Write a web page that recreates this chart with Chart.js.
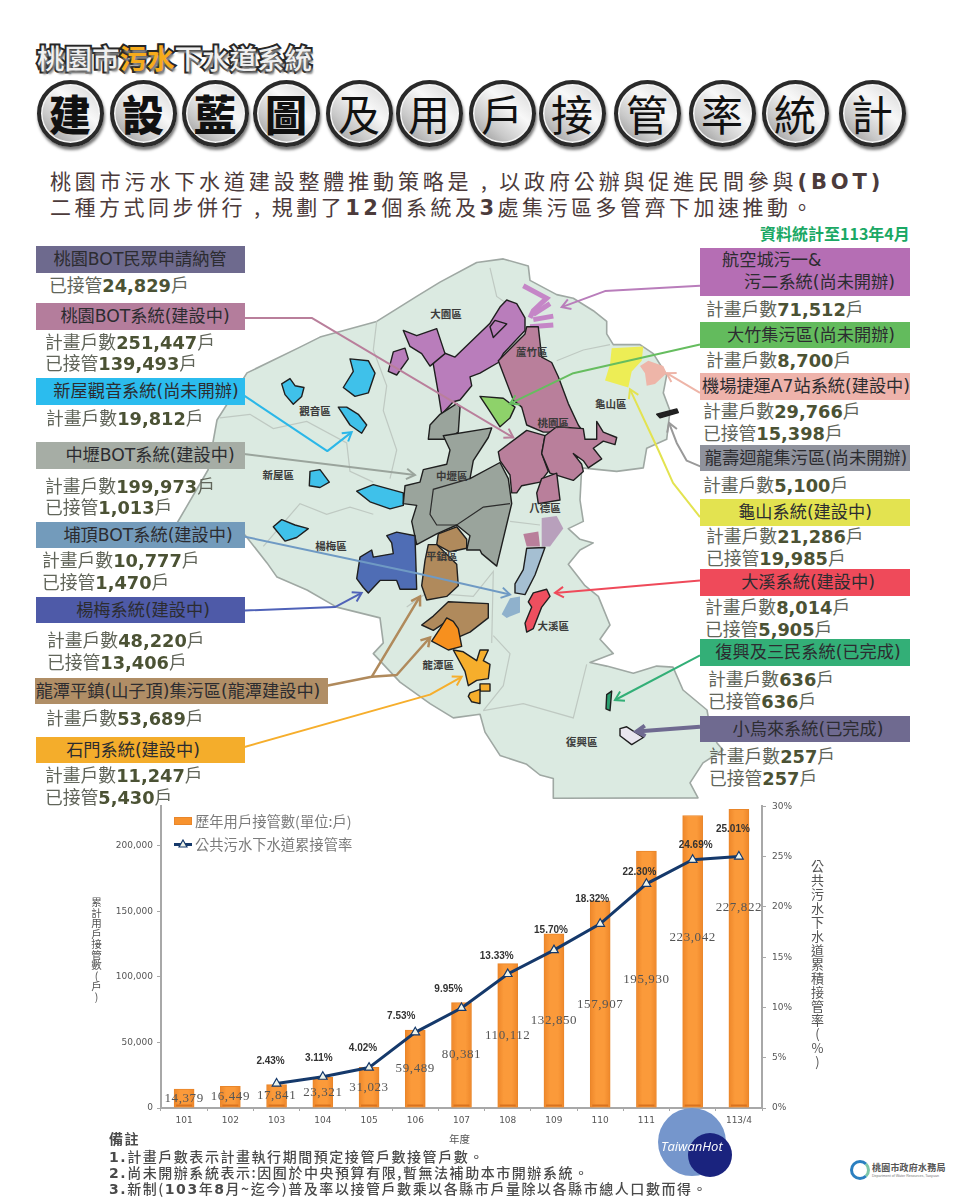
<!DOCTYPE html>
<html lang="zh-Hant">
<head>
<meta charset="utf-8">
<title>桃園市污水下水道系統</title>
<script src="https://cdn.jsdelivr.net/npm/chart.js@4"></script>
<style>
html, body { margin: 0; padding: 0; background: #fff; }
#page { position: relative; width: 960px; height: 1200px; overflow: hidden; font-family: "DejaVu Sans", "Noto Sans CJK TC", sans-serif; }
#page > * { position: absolute; }
#map { left: 0; top: 0; width: 960px; height: 1200px; }
.title { left: 37px; top: 38px; font: 500 27.5px/38px "Noto Sans CJK TC"; color: #f0f0f0; white-space: nowrap; -webkit-text-stroke: 4px #262626; paint-order: stroke fill; text-shadow: 2px 3px 2px #8a8a8a; }
.title b { color: #f6ab1c; font-weight: 700; }
.ball { width: 59px; height: 59px; top: 80px; border: 4px solid #2a2a2a; border-radius: 50%; background: linear-gradient(40deg, #8c8c8c 0, #c9c9c9 30%, #f8f8f8 62%, #e4e4e4 82%, #b5b5b5 100%); box-shadow: inset 0 0 0 1.5px #f4f4f4, 1px 3px 3px #777; color: #111; text-align: center; font: 400 42px/57px "Noto Sans CJK TC"; }
.ball.heavy { font-weight: 900; }
.intro { left: 50px; white-space: nowrap; color: #4c3b3b; font: 400 21px/28px "Noto Sans CJK TC"; letter-spacing: 3.85px; }
.intro b { font-family: "DejaVu Sans"; font-weight: 700; }
.stamp { left: 760px; top: 223px; color: #1aa864; font: 700 16px/20px "Noto Sans CJK TC"; white-space: nowrap; }
.box { height: 26px; line-height: 26px; font-size: 17.2px; color: #2c2c30; white-space: nowrap; }
.box span { position: absolute; top: 0; transform: translateX(-50%); }
.stat { white-space: nowrap; font-size: 17.8px; line-height: 22px; color: #61655a; }
.stat b { color: #4b5234; }
.dist { transform: translate(-50%, -50%); font: 700 10.5px/12px "Noto Sans CJK TC"; color: #3a3a3a; white-space: nowrap; }
#chartBox { left: 100px; top: 795px; width: 710px; height: 345px; }
.legend { left: 195px; font: 400 14.3px/20px "Noto Sans CJK TC"; color: #7b7b7b; white-space: nowrap; }
.swatch { left: 174px; top: 817px; width: 18px; height: 8px; background: #f7922e; border: 1px solid #e9862a; box-sizing: border-box; }
.swatchLine { left: 174px; top: 843px; width: 18px; height: 3px; background: #15396b; }
.swatchTri { left: 178px; top: 839px; width: 10px; height: 9px; }
.axisTitle { writing-mode: vertical-rl; text-orientation: upright; font: 400 10.5px/12px "Noto Sans CJK TC"; color: #555; white-space: nowrap; }
.note { left: 109px; white-space: nowrap; color: #4a4a4a; font: 500 14px/17px "Noto Sans CJK TC"; letter-spacing: 1.55px; }
.note b { font-family: "DejaVu Sans"; font-weight: 700; }
.hotA, .hotB { border-radius: 50%; }
.hotA { left: 658px; top: 1108px; width: 68px; height: 68px; background: #7596cc; }
.hotB { left: 688px; top: 1133px; width: 44px; height: 44px; background: #1a237e; }
.hotText { left: 661px; top: 1136px; color: #fff; font: italic 400 13px/20px "Open Sans"; white-space: nowrap; }
.logo { left: 850px; top: 1160px; width: 20px; height: 20px; border-radius: 50%; border: 3px solid #2a7fc0; border-right-color: #7cc6a8; box-sizing: border-box; }
.logoText { left: 872px; top: 1162px; font: 700 9px/11px "Noto Sans CJK TC"; color: #555; white-space: nowrap; letter-spacing: .2px; }
.logoSub { left: 872px; top: 1174px; font: 400 3.6px/5px "Liberation Sans"; color: #777; white-space: nowrap; }
</style>
</head>
<body>
<div id="page">
  <svg id="map" viewBox="0 0 960 1200" xmlns="http://www.w3.org/2000/svg"></svg>

  <div class="title">桃園市<b>污水</b>下水道系統</div>

  <div class="intro" style="top:166px">桃園市污水下水道建設整體推動策略是 , 以政府公辦與促進民間參與<b>(BOT)</b></div>
  <div class="intro" style="top:192px;letter-spacing:3.5px">二種方式同步併行 , 規劃了<b>12</b>個系統及<b>3</b>處集污區多管齊下加速推動。</div>
  <div class="stamp">資料統計至113年4月</div>

  <div id="chartBox"><canvas id="comboChart"></canvas></div>

  <div class="swatch"></div>
  <div class="legend" style="top:811px">歷年用戶接管數(單位:戶)</div>
  <div class="swatchLine"></div>
  <svg class="swatchTri" viewBox="0 0 10 9"><polygon points="5,1 9,8 1,8" fill="#eef3ea" stroke="#15396b" stroke-width="1.2"/></svg>
  <div class="legend" style="top:834px">公共污水下水道累接管率</div>
  <div class="axisTitle" style="left:90px;top:897px">累計用戶接管數(戶)</div>
  <div class="axisTitle" style="left:810px;top:860px;font-size:13px;line-height:14px;letter-spacing:1px">公共污水下水道累積接管率(%)</div>
  <div class="axisTitle" style="left:449px;top:1133px;writing-mode:horizontal-tb">年度</div>

  <div class="note" style="top:1130px;font-weight:700">備註</div>
  <div class="note" style="top:1148px"><b>1.</b>計畫戶數表示計畫執行期間預定接管戶數接管戶數。</div>
  <div class="note" style="top:1164px"><b>2.</b>尚未開辦系統表示:因囿於中央預算有限,暫無法補助本市開辦系統。</div>
  <div class="note" style="top:1180px"><b>3.</b>新制(<b>103</b>年<b>8</b>月~迄今)普及率以接管戶數乘以各縣市戶量除以各縣市總人口數而得。</div>

  <div class="hotA"></div>
  <div class="hotB"></div>
  <div class="hotText">TaiwanHot</div>
  <div class="logo"></div>
  <div class="logoText">桃園市政府水務局</div>
  <div class="logoSub">Department of Water Resources, Taoyuan</div>
</div>

<script>
// Chart data
const years = ['101', '102', '103', '104', '105', '106', '107', '108', '109', '110', '111', '112', '113/4'];
const households = [14379, 16449, 17841, 23321, 31023, 59489, 80381, 110112, 132850, 157907, 195930, 223042, 227822];
const connectRates = [null, null, 2.43, 3.11, 4.02, 7.53, 9.95, 13.33, 15.70, 18.32, 22.30, 24.69, 25.01];
const householdTicks = [0, 50000, 100000, 150000, 200000];
const rateTicks = [0, 5, 10, 15, 20, 25, 30];

// Header balls (centre x)
const ballChars = ['建', '設', '藍', '圖', '及', '用', '戶', '接', '管', '率', '統', '計'];
const ballCentres = [70, 143, 215, 286, 359, 429, 502, 572, 647, 722, 795, 872];

// Label boxes: text, left, top, width, height, colour, text centre
const labelBoxes = [
    ['桃園BOT民眾申請納管', 36, 246, 209, 27, '#6e6a8e', 140],
    ['桃園BOT系統(建設中)', 36, 303, 209, 27, '#b47d9c', 145],
    ['新屋觀音系統(尚未開辦)', 36, 378, 209, 27, '#2bbcee', 146],
    ['中壢BOT系統(建設中)', 36, 442, 209, 27, '#a6ada5', 150],
    ['埔頂BOT系統(建設中)', 36, 522, 209, 26, '#739bbb', 148],
    ['楊梅系統(建設中)', 36, 597, 209, 26, '#4e5aa8', 143],
    ['龍潭平鎮(山子頂)集污區(龍潭建設中)', 35, 678, 293, 26, '#b08e66', 178],
    ['石門系統(建設中)', 36, 737, 209, 26, '#f4ad2b', 133],
    ['大竹集污區(尚未開辦)', 700, 322, 210, 26, '#63bb5d', 811],
    ['機場捷運A7站系統(建設中)', 700, 373, 210, 27, '#eeb3ab', 806],
    ['龍壽迴龍集污區(尚未開辦)', 700, 445, 210, 26, '#8f929c', 806],
    ['龜山系統(建設中)', 700, 499, 210, 27, '#e3e350', 805],
    ['大溪系統(建設中)', 700, 569, 210, 27, '#ef4a5a', 808],
    ['復興及三民系統(已完成)', 700, 639, 210, 27, '#33af77', 808],
    ['小烏來系統(已完成)', 700, 716, 210, 26, '#6f6a90', 808]
];

// Stat lines: prefix, number, left, centre y
const statLines = [
    ['已接管', '24,829', 49, 286],
    ['計畫戶數', '251,447', 45, 343],
    ['已接管', '139,493', 45, 364],
    ['計畫戶數', '19,812', 46, 419],
    ['計畫戶數', '199,973', 45, 487],
    ['已接管', '1,013', 45, 508],
    ['計畫戶數', '10,777', 42, 561],
    ['已接管', '1,470', 42, 583],
    ['計畫戶數', '48,220', 47, 641],
    ['已接管', '13,406', 47, 663],
    ['計畫戶數', '53,689', 46, 719],
    ['計畫戶數', '11,247', 45, 776],
    ['已接管', '5,430', 45, 798],
    ['計畫戶數', '71,512', 706, 310],
    ['計畫戶數', '8,700', 706, 361],
    ['計畫戶數', '29,766', 703, 412],
    ['已接管', '15,398', 703, 434],
    ['計畫戶數', '5,100', 703, 486],
    ['計畫戶數', '21,286', 706, 537],
    ['已接管', '19,985', 706, 559],
    ['計畫戶數', '8,014', 705, 608],
    ['已接管', '5,905', 705, 630],
    ['計畫戶數', '636', 708, 680],
    ['已接管', '636', 708, 702],
    ['計畫戶數', '257', 709, 757],
    ['已接管', '257', 709, 779]
];

// Map shapes (map units: x*3, y*2.8 from 240,250)
const mapOutline = [[240,244],[410,200],[530,130],[600,90],[710,35],[790,25],[865,45],[870,85],[950,125],[1000,135],[1060,170],[1100,200],[1100,235],[1120,265],[1200,265],[1240,290],[1280,350],[1270,400],[1290,450],[1280,530],[1220,555],[1210,610],[1130,620],[1025,610],[1020,700],[1030,760],[985,780],[1020,810],[1060,820],[1020,840],[985,880],[1010,910],[1035,940],[1075,970],[1110,1050],[1080,1090],[1120,1130],[1050,1155],[1100,1165],[1180,1185],[1250,1165],[1299,1168],[1329,1232],[1401,1288],[1410,1336],[1431,1380],[1449,1400],[1389,1436],[1350,1492],[1374,1534],[940,1535],[940,1480],[900,1470],[860,1440],[780,1415],[735,1350],[720,1300],[640,1310],[570,1270],[480,1210],[400,1130],[430,1100],[420,1030],[290,1000],[201,952],[111,916],[81,876],[15,798],[-201,784],[-96,616],[-69,476],[21,344],[180,272]];
const districtLines = [
    [[410,200],[400,280],[440,380],[430,450],[470,560],[450,640]],
    [[-60,470],[30,460],[100,500],[200,480],[320,540],[330,620],[400,650]],
    [[70,830],[180,710],[260,740],[330,720],[400,740]],
    [[750,50],[770,130],[800,150]],
    [[950,310],[1030,280],[1110,265]],
    [[500,1000],[560,960],[700,970],[760,900],[755,1100]],
    [[730,1290],[850,1270],[1000,1310],[1040,1160]],
    [[760,1080],[810,1130],[790,1220],[730,1290]],
    [[810,760],[900,770]]
];
const mapRegions = [
    ['#3fc1ea', [[125,375],[150,360],[165,380],[192,385],[185,410],[160,432],[135,405]]],
    ['#3fc1ea', [[330,305],[385,310],[405,345],[385,400],[345,410],[310,385],[340,340]]],
    ['#3fc1ea', [[295,440],[320,440],[355,460],[380,490],[365,513],[330,490]]],
    ['#3fc1ea', [[210,620],[240,615],[268,650],[240,665],[208,660]]],
    ['#3fc1ea', [[350,675],[400,657],[490,680],[490,715],[450,725],[390,705]]],
    ['#3fc1ea', [[100,775],[125,755],[165,770],[205,780],[170,805],[135,815]]],
    ['#b97dbb', [[780,160],[800,140],[830,150],[855,190],[855,225],[790,290],[775,315],[720,345],[690,355],[695,380],[660,420],[640,425],[605,460],[595,400],[580,320],[590,280],[645,300],[750,205]]],
    ['#b97dbb', [[490,225],[530,240],[590,220],[615,290],[570,325],[545,290],[510,270]]],
    ['#b97dbb', [[460,285],[495,275],[505,305],[470,350],[445,340]]],
    ['#b97dbb', [[750,215],[765,197],[800,207],[760,245]]],
    ['#b97f9b', [[860,215],[895,215],[905,300],[935,315],[955,355],[985,430],[1015,490],[1030,510],[910,510],[860,490],[845,440],[820,420],[775,310],[855,235]]],
    ['#b97f9b', [[775,565],[860,505],[915,520],[905,570],[925,620],[900,650],[845,660],[830,680],[815,680],[810,630],[780,590]]],
    ['#b97f9b', [[915,520],[950,495],[1030,500],[1035,530],[1070,530],[1070,480],[1090,510],[1130,525],[1125,545],[1090,535],[1060,555],[1085,585],[1045,610],[1030,590],[1000,570],[1025,600],[1030,620],[1000,645],[930,625],[905,570]]],
    ['#b97f9b', [[905,640],[950,625],[960,700],[895,710],[890,680]]],
    ['#9aa49c', [[570,490],[600,460],[650,430],[660,440],[655,510],[620,530],[565,530]]],
    ['#9aa49c', [[610,520],[755,498],[745,525],[700,590],[690,640],[780,595],[805,640],[815,710],[770,885],[725,850],[720,840],[680,840],[690,800],[650,770],[590,795],[530,825],[515,760],[530,715],[490,710],[495,660],[540,650],[550,615],[620,600],[630,560]]],
    ['#4f6db5', [[440,800],[470,790],[525,800],[530,950],[480,950],[470,925],[420,925],[385,960],[370,945],[350,920],[360,860],[395,840],[400,860],[460,850],[455,820]]],
    ['#b08a5c', [[595,795],[650,775],[680,810],[680,835],[630,845],[590,825]]],
    ['#b08a5c', [[565,825],[590,825],[650,880],[655,940],[620,970],[560,980],[545,940],[555,870]]],
    ['#b08a5c', [[625,985],[745,990],[745,1030],[690,1070],[640,1090],[620,1040],[580,1065],[545,1050],[580,1025]]],
    ['#f7901e', [[620,1030],[640,1040],[655,1060],[665,1110],[625,1120],[575,1095],[600,1060]]],
    ['#f6ae2c', [[640,1120],[670,1125],[710,1150],[720,1120],[745,1120],[730,1150],[750,1160],[745,1200],[710,1205],[685,1220],[675,1180]]],
    ['#f6ae2c', [[720,1215],[750,1215],[750,1235],[720,1235]]],
    ['#f6ae2c', [[690,1240],[720,1230],[720,1270],[695,1265],[685,1250]]],
    ['#a5bfd2', [[860,835],[915,833],[885,910],[855,965],[825,960],[825,935],[850,895]]],
    ['#ee4f5f', [[880,960],[920,950],[930,970],[905,1000],[880,1060],[860,1070],[855,1045],[875,1000],[865,985]]],
    ['#8ed26a', [[720,410],[790,415],[825,440],[810,470],[780,495],[745,445]]],
    ['#2aa070', [[1100,1245],[1115,1235],[1110,1290],[1098,1285]]],
    ['#e9e6ee', [[1140,1340],[1160,1335],[1210,1365],[1175,1385],[1140,1360]]],
    ['#222222', [[1250,460],[1310,445],[1315,455],[1260,470]]]
];
// Regions drawn without a dark edge
const softRegions = [
    ['#b8a0bc', [[905,750],[950,745],[970,780],[930,830],[905,830]]],
    ['#b97f9b', [[850,795],[895,788],[900,830],[860,830]]],
    ['#8fb1cc', [[810,975],[840,970],[840,1015],[800,1030],[785,1020]]],
    ['#eded55', [[1115,275],[1210,270],[1205,310],[1175,340],[1165,385],[1130,375],[1095,365],[1110,320]]],
    ['#eeb5a8', [[1200,325],[1225,310],[1270,325],[1280,345],[1245,375],[1220,380],[1215,345]]]
];
const paleStrokes = [
    [[850,100],[920,135],[880,170],[870,190]],
    [[930,150],[880,180]],
    [[940,185],[880,195]],
    [[870,215],[940,210]]
];
// Leader lines: colour, width, points, arrow head?
const leaderLines = [
    ['#b97f9b', 2, [[0,190],[215,190],[820,525]], true],
    ['#2bb7e8', 2, [[0,400],[262,563],[335,510]], true],
    ['#9aa49c', 2, [[0,570],[525,630]], true],
    ['#6f9ac4', 2, [[0,800],[530,905],[810,965]], true],
    ['#4f62b8', 2, [[0,1010],[285,1000],[365,960]], true],
    ['#b08a5c', 2.5, [[260,1220],[395,1195],[540,970]], true],
    ['#b08a5c', 2.5, [[395,1195],[470,1190],[570,1085]], true],
    ['#f6ae2c', 2, [[0,1395],[570,1245],[665,1195]], true],
    ['#b97dbb', 2, [[1380,100],[1095,115],[965,160]], true],
    ['#66bd5f', 2, [[1380,265],[1000,345],[810,430]], true],
    ['#eeb5a8', 2, [[1380,400],[1280,345]], true],
    ['#999999', 2, [[1386,608],[1340,590],[1310,540],[1287,484]], true],
    ['#e3e350', 2, [[1380,748],[1299,652],[1255,560],[1170,390]], true],
    ['#ef4a5a', 2, [[1380,925],[945,960]], true],
    ['#33af77', 2, [[1380,1135],[1125,1260]], true],
    ['#6f6a90', 4, [[1380,1335],[1190,1348]], true]
];
const districtNames = [
    ['大園區',618,180],['蘆竹區',875,285],['觀音區',225,452],['新屋區',115,630],['中壢區',635,632],['桃園區',940,483],['龜山區',1112,432],
    ['八德區',915,723],['楊梅區',273,828],['平鎮區',605,858],['大溪區',940,1052],['龍潭區',595,1162],['復興區',1025,1378]
];

function mapX(x) { return 240 + x / 3; }
function mapY(y) { return 250 + y / 2.8; }
function toPoints(pts) {
    return pts.map(p => mapX(p[0]).toFixed(1) + ',' + mapY(p[1]).toFixed(1)).join(' ');
}

// Draw the map as svg
function drawMap() {
    let svg = '';
    svg += `<polygon points="${toPoints(mapOutline)}" fill="#dbeae1" stroke="#9fa8a3" stroke-width="1.6" stroke-linejoin="round"/>`;
    districtLines.forEach(l => {
        svg += `<polyline points="${toPoints(l)}" fill="none" stroke="#bfc9c2" stroke-width="1.2"/>`;
    });
    paleStrokes.forEach(l => {
        svg += `<polyline points="${toPoints(l)}" fill="none" stroke="#c586c7" stroke-width="5"/>`;
    });
    softRegions.forEach(r => {
        svg += `<polygon points="${toPoints(r[1])}" fill="${r[0]}"/>`;
    });
    mapRegions.forEach(r => {
        svg += `<polygon points="${toPoints(r[1])}" fill="${r[0]}" stroke="#1f1f1f" stroke-width="1.4" stroke-linejoin="round"/>`;
    });
    svg += `<polyline points="${toPoints([[690,640],[580,670],[570,740],[590,770],[650,770],[730,720],[810,710]])}" fill="none" stroke="#2c2c2c" stroke-width="1.2"/>`;
    leaderLines.forEach(l => {
        const pts = l[2];
        svg += `<polyline points="${toPoints(pts)}" fill="none" stroke="${l[0]}" stroke-width="${l[1]}" stroke-linejoin="round"/>`;
        if (l[3]) {
            const a = pts[pts.length - 2], b = pts[pts.length - 1];
            const ax = mapX(a[0]), ay = mapY(a[1]), bx = mapX(b[0]), by = mapY(b[1]);
            const ang = Math.atan2(by - ay, bx - ax);
            const size = 10;
            const h1 = [bx - size * Math.cos(ang - 0.55), by - size * Math.sin(ang - 0.55)];
            const h2 = [bx - size * Math.cos(ang + 0.55), by - size * Math.sin(ang + 0.55)];
            svg += `<polyline points="${h1[0]},${h1[1]} ${bx},${by} ${h2[0]},${h2[1]}" fill="none" stroke="${l[0]}" stroke-width="${l[1]}"/>`;
        }
    });
    document.getElementById('map').innerHTML = svg;
}

// Header balls, boxes, stats
function drawLabels() {
    const page = document.getElementById('page');
    ballChars.forEach((c, i) => {
        const el = document.createElement('div');
        el.className = i < 4 ? 'ball heavy' : 'ball';
        el.style.left = (ballCentres[i] - 33.5) + 'px';
        el.textContent = c;
        page.appendChild(el);
    });
    labelBoxes.forEach(b => {
        const el = document.createElement('div');
        el.className = 'box';
        el.style.cssText = `left:${b[1]}px;top:${b[2]}px;width:${b[3]}px;height:${b[4]}px;line-height:${b[4]}px;background:${b[5]}`;
        el.innerHTML = `<span style="left:${b[6] - b[1]}px">${b[0]}</span>`;
        page.appendChild(el);
    });
    // 航空城 box has two lines
    const air = document.createElement('div');
    air.className = 'box';
    air.style.cssText = 'left:700px;top:248px;width:210px;height:48px;background:#b56eb4';
    air.innerHTML = '<span style="left:22px;top:-1px;transform:none">航空城污一&amp;</span><span style="left:44px;top:21px;transform:none">污二系統(尚未開辦)</span>';
    page.appendChild(air);
    statLines.forEach(s => {
        const el = document.createElement('div');
        el.className = 'stat';
        el.style.left = s[2] + 'px';
        el.style.top = (s[3] - 11) + 'px';
        el.innerHTML = `${s[0]}<b>${s[1]}</b>戶`;
        page.appendChild(el);
    });
    districtNames.forEach(d => {
        const el = document.createElement('div');
        el.className = 'dist';
        el.style.left = mapX(d[1]) + 'px';
        el.style.top = mapY(d[2]) + 'px';
        el.textContent = d[0];
        page.appendChild(el);
    });
}

// Number labels on the bars and the line
const valueLabels = {
    id: 'valueLabels',
    afterDatasetsDraw(chart) {
        const ctx = chart.ctx;
        const bars = chart.getDatasetMeta(0).data;
        const points = chart.getDatasetMeta(1).data;
        // last two bar labels sit higher up in the picture
        const barShift = { 11: -24, 12: -51 };
        // rate labels are nudged by hand
        const rateShift = { 2: [-6, -22], 3: [-4, -18], 4: [-6, -19], 5: [-14, -16], 6: [-13, -19], 7: [-11, -18], 8: [-3, -20], 9: [-8, -25], 10: [-7, -12], 11: [3, -15], 12: [-6, -27] };
        ctx.save();
        // darker foot on each bar
        ctx.fillStyle = '#d9731f';
        bars.forEach(bar => {
            ctx.fillRect(bar.x - 8, bar.base - 3, 16, 2);
        });
        ctx.textAlign = 'center';
        ctx.textBaseline = 'middle';
        ctx.font = '13px "Liberation Serif"';
        ctx.letterSpacing = '0.6px';
        ctx.fillStyle = '#555555';
        bars.forEach((bar, i) => {
            const y = (bar.y + bar.base) / 2 + (barShift[i] || 0);
            ctx.fillText(households[i].toLocaleString('en-US'), bar.x, y);
        });
        ctx.font = 'bold 10px "Liberation Sans"';
        ctx.letterSpacing = '0px';
        ctx.fillStyle = '#333333';
        points.forEach((pt, i) => {
            if (connectRates[i] === null) return;
            const s = rateShift[i];
            ctx.fillText(connectRates[i].toFixed(2) + '%', pt.x + s[0], pt.y + s[1]);
        });
        ctx.restore();
    }
};

// Soft side shading for the bars
function barFill(context) {
    const chart = context.chart;
    const cx = chart.scales.x ? chart.scales.x.getPixelForValue(context.dataIndex) : NaN;
    if (!isFinite(cx)) return '#f7922e';
    const g = chart.ctx.createLinearGradient(cx - 10, 0, cx + 10, 0);
    g.addColorStop(0, '#ee872a');
    g.addColorStop(0.3, '#fb9a3a');
    g.addColorStop(0.7, '#fb9a3a');
    g.addColorStop(1, '#ee872a');
    return g;
}

// Bar + line chart
function initializeComboChart() {
    new Chart(document.getElementById('comboChart'), {
        type: 'bar',
        data: {
            labels: years,
            datasets: [{
                label: '歷年用戶接管數(單位:戶)',
                data: households,
                yAxisID: 'y',
                backgroundColor: barFill,
                borderColor: '#e9862a',
                borderWidth: 1,
                barThickness: 20,
                order: 2
            }, {
                type: 'line',
                label: '公共污水下水道累接管率',
                data: connectRates,
                yAxisID: 'y1',
                borderColor: '#15396b',
                borderWidth: 3,
                tension: 0,
                spanGaps: false,
                pointStyle: 'triangle',
                pointRadius: 5,
                pointBackgroundColor: '#eef3ea',
                pointBorderColor: '#15396b',
                pointBorderWidth: 1.2,
                order: 1
            }]
        },
        options: {
            responsive: true,
            maintainAspectRatio: false,
            animation: false,
            layout: { padding: { top: 10 } },
            plugins: { legend: { display: false }, tooltip: { enabled: false } },
            scales: {
                x: {
                    afterFit: s => { s.height = 32; },
                    border: { color: '#a8a8a8', width: 2 },
                    grid: { drawOnChartArea: false, color: '#a8a8a8', tickLength: 3 },
                    ticks: { color: '#555', font: { family: 'DejaVu Sans', size: 9 }, padding: 4, maxRotation: 0, autoSkip: false }
                },
                y: {
                    position: 'left',
                    min: 0,
                    max: 230000,
                    afterFit: s => { s.width = 61; },
                    afterBuildTicks: s => { s.ticks = householdTicks.map(v => ({ value: v })); },
                    border: { color: '#a8a8a8', width: 2 },
                    grid: { drawOnChartArea: false, color: '#a8a8a8', tickLength: 4 },
                    ticks: {
                        color: '#555',
                        font: { family: 'DejaVu Sans', size: 9 },
                        padding: 4,
                        callback: v => v.toLocaleString('en-US')
                    }
                },
                y1: {
                    position: 'right',
                    min: 0,
                    max: 30,
                    afterFit: s => { s.width = 48; },
                    afterBuildTicks: s => { s.ticks = rateTicks.map(v => ({ value: v })); },
                    border: { color: '#a8a8a8', width: 2 },
                    grid: { drawOnChartArea: false, color: '#a8a8a8', tickLength: 4 },
                    ticks: {
                        color: '#555',
                        font: { family: 'DejaVu Sans', size: 9 },
                        padding: 6,
                        callback: v => v + '%'
                    }
                }
            }
        },
        plugins: [valueLabels]
    });
}

drawMap();
drawLabels();
initializeComboChart();
</script>
</body>
</html>
